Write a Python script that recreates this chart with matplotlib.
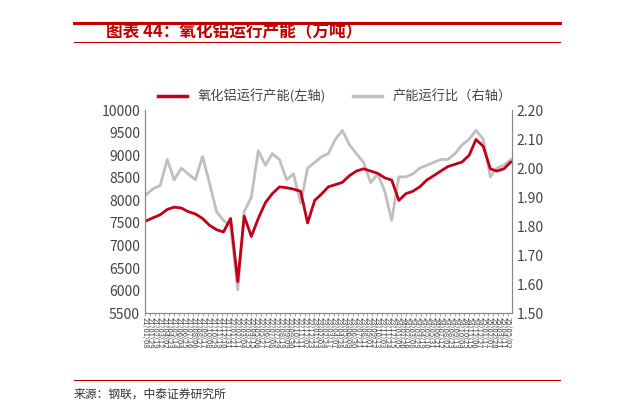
import numpy as np
import pandas as pd
import matplotlib.pyplot as plt
import matplotlib.lines as mlines

plt.rcParams['font.family'] = ['Noto Sans CJK SC', 'DejaVu Sans']

# monthly readings, Jan 2021 .. May 2025
months = pd.date_range("2021-01-01", periods=53, freq="MS") + pd.Timedelta(days=14)
capacity = [7550, 7620, 7680, 7800, 7850, 7830, 7750, 7700, 7600, 7450, 7350, 7300,
            7600, 6200, 7650, 7200, 7600, 7950, 8150, 8300, 8280, 8250, 8200, 7500,
            8000, 8150, 8300, 8350, 8400, 8550, 8650, 8700, 8650, 8600, 8500, 8450,
            8000, 8150, 8200, 8300, 8450, 8550, 8650, 8750, 8800, 8850, 9000, 9350,
            9200, 8700, 8650, 8700, 8850]
ratio = [1.91, 1.93, 1.94, 2.03, 1.96, 2.0, 1.98, 1.96, 2.04, 1.95, 1.85, 1.82,
         1.80, 1.58, 1.85, 1.90, 2.06, 2.01, 2.05, 2.03, 1.96, 1.98, 1.88, 2.0,
         2.02, 2.04, 2.05, 2.10, 2.13, 2.08, 2.05, 2.02, 1.95, 1.98, 1.92, 1.82,
         1.97, 1.97, 1.98, 2.0, 2.01, 2.02, 2.03, 2.03, 2.05, 2.08, 2.10, 2.13,
         2.10, 1.97, 2.0, 2.01, 2.03]
tick_dates = pd.date_range("2021-01-08", "2025-05-16", freq="21D")
tick_labels = [d.strftime("%y/%m/%d") for d in tick_dates]

fig = plt.figure(figsize=(6.44, 4.11), dpi=100)
red = '#c00018'

# header
fig.add_artist(mlines.Line2D([0.115, 0.87], [0.945, 0.945], color='#c00000', lw=2.2))
fig.add_artist(mlines.Line2D([0.115, 0.87], [0.898, 0.898], color='#c00000', lw=0.8))
fig.text(0.165, 0.922, "图表 44：氧化铝运行产能（万吨）", color='#c00000', fontsize=12,
         fontweight='bold', style='italic', va='center')
fig.text(0.115, 0.04, "来源：钢联，中泰证券研究所", fontsize=8.5, color='#333333', va='center')
fig.add_artist(mlines.Line2D([0.115, 0.87], [0.075, 0.075], color='#c00000', lw=0.8))

ax = fig.add_axes([0.225, 0.238, 0.57, 0.494])
ax2 = ax.twinx()
ax2.plot(months, ratio, color='#bfbfbf', lw=2)
ax.plot(months, capacity, color=red, lw=2)
ax.set_zorder(ax2.get_zorder() + 1)
ax.patch.set_visible(False)

ax.set_ylim(5500, 10000)
ax.set_yticks(np.arange(5500, 10001, 500))
ax2.set_ylim(1.5, 2.2)
ax2.set_yticks(np.arange(1.5, 2.201, 0.1))
ax2.set_yticklabels([f"{v:.2f}" for v in np.arange(1.5, 2.201, 0.1)])
ax.set_xlim(tick_dates[0], pd.Timestamp("2025-05-20"))
ax.set_xticks(tick_dates)
ax.set_xticklabels(tick_labels, rotation=270, fontsize=5.5, color='#444444')
for a in (ax, ax2):
    a.tick_params(axis='y', labelsize=10, colors='#444444', length=0)
    for s in ['top']:
        a.spines[s].set_visible(False)
    for s in ['left', 'right', 'bottom']:
        a.spines[s].set_color('#888888')
ax.tick_params(axis='x', length=2, color='#aaaaaa', pad=1)

h1 = mlines.Line2D([], [], color=red, lw=2.5)
h2 = mlines.Line2D([], [], color='#bfbfbf', lw=2.5)
fig.legend([h1, h2], ["氧化铝运行产能(左轴)", "产能运行比（右轴）"], loc='center',
           bbox_to_anchor=(0.52, 0.765), ncol=2, frameon=False, fontsize=9.5,
           handlelength=2.2, labelcolor='#444444')

fig.savefig("out.png", dpi=100)
